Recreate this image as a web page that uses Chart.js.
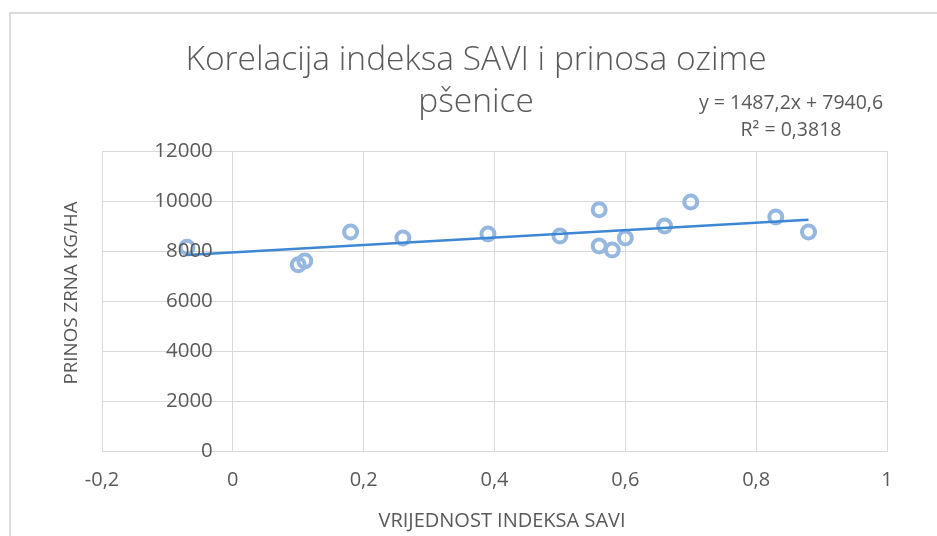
<!DOCTYPE html>
<html>
<head>
<meta charset="utf-8">
<script src="https://cdn.jsdelivr.net/npm/chart.js@4"></script>
<style>
  html, body { margin: 0; padding: 0; background: #fff; }
  #wrap { width: 937px; height: 536px; position: relative; }
</style>
</head>
<body>
<div id="wrap"><canvas id="myChart" width="937" height="536"></canvas></div>
<script>
// SAVI vrijednosti i prinos (kg/ha)
const saviValues = [-0.07, 0.10, 0.11, 0.18, 0.26, 0.39, 0.50, 0.56, 0.56, 0.58, 0.60, 0.66, 0.70, 0.83, 0.88];
const yieldValues = [8150, 7450, 7600, 8760, 8520, 8680, 8600, 9650, 8200, 8040, 8520, 9000, 9960, 9360, 8760];

// osi
const xTickValues = [-0.2, 0, 0.2, 0.4, 0.6, 0.8, 1];
const yTickValues = [0, 2000, 4000, 6000, 8000, 10000, 12000];

// linija trenda (Excel)
const trendSlope = 1487.2;
const trendIntercept = 7940.6;

const titleLines = ["Korelacija indeksa SAVI i prinosa ozime", "pšenice"];
const equationLines = ["y = 1487,2x + 7940,6", "R² = 0,3818"];
const xTitle = "VRIJEDNOST INDEKSA SAVI";
const yTitle = "PRINOS ZRNA KG/HA";

const textColor = "#595959";
const gridColor = "#d9d9d9";
const fontFamily = "'Open Sans', 'DejaVu Sans', sans-serif";

const xMin = Math.min(...saviValues);
const xMax = Math.max(...saviValues);
const trendPoints = [
  { x: xMin, y: trendSlope * xMin + trendIntercept },
  { x: xMax, y: trendSlope * xMax + trendIntercept },
];

const fmt = (v) => String(Math.round(v * 10) / 10).replace(".", ",");

// tekstovi i okvir
const textPlugin = {
  id: "texts",
  beforeDraw(chart) {
    const c = chart.ctx;
    c.save();
    c.strokeStyle = "#d0d0d0";
    c.lineWidth = 1.5;
    c.beginPath();
    c.moveTo(10, 536);
    c.lineTo(10, 13);
    c.lineTo(937, 13);
    c.stroke();
    c.restore();
  },
  afterDraw(chart) {
    const c = chart.ctx;
    const xs = chart.scales.x;
    const ys = chart.scales.y;
    c.save();
    c.fillStyle = textColor;
    c.textBaseline = "middle";

    // oznake y osi lijevo od x = 0
    c.textAlign = "right";
    c.font = "20.5px " + fontFamily;
    const axisX = xs.getPixelForValue(0);
    yTickValues.forEach((v) => {
      c.fillText(String(v), axisX - 20, ys.getPixelForValue(v));
    });

    c.textAlign = "center";
    c.font = "300 33.5px " + fontFamily;
    c.fillText(titleLines[0], 476, 60);
    c.fillText(titleLines[1], 476, 102);

    c.font = "19.5px " + fontFamily;
    c.fillText(equationLines[0], 791, 103);
    c.fillText(equationLines[1], 791, 130);

    c.font = "20px " + fontFamily;
    c.fillText(xTitle, 502, 521);

    c.font = "18.8px " + fontFamily;
    c.translate(72, 293);
    c.rotate(-Math.PI / 2);
    c.fillText(yTitle, 0, 0);
    c.restore();
  },
};

const ctx = document.getElementById("myChart").getContext("2d");
const myChart = new Chart(ctx, {
  type: "scatter",
  data: {
    datasets: [
      {
        label: "Trend",
        type: "line",
        data: trendPoints,
        borderColor: "#3d87d4",
        borderWidth: 2.5,
        pointRadius: 0,
        fill: false,
        order: 0,
      },
      {
        label: "SAVI",
        data: saviValues.map((x, i) => ({ x: x, y: yieldValues[i] })),
        pointRadius: 6.5,
        pointBorderWidth: 4,
        pointBackgroundColor: "rgba(255,255,255,0)",
        pointBorderColor: "#96b8e0",
        order: 1,
      },
    ],
  },
  options: {
    responsive: false,
    animation: false,
    layout: { padding: { left: 102, right: 50, top: 151, bottom: 0 } },
    plugins: {
      legend: { display: false },
      title: { display: false },
      tooltip: { enabled: false },
    },
    scales: {
      x: {
        type: "linear",
        min: xTickValues[0],
        max: xTickValues[xTickValues.length - 1],
        afterBuildTicks: (scale) => {
          scale.ticks = xTickValues.map((v) => ({ value: v }));
        },
        afterFit: (scale) => {
          scale.height = 85;
        },
        grid: { color: gridColor, drawTicks: false },
        border: { color: gridColor },
        ticks: {
          color: textColor,
          font: { family: fontFamily, size: 20 },
          padding: 17,
          maxRotation: 0,
          callback: (v) => fmt(v),
        },
      },
      y: {
        type: "linear",
        position: { x: 0 },
        min: yTickValues[0],
        max: yTickValues[yTickValues.length - 1],
        afterBuildTicks: (scale) => {
          scale.ticks = yTickValues.map((v) => ({ value: v }));
        },
        grid: { color: gridColor, drawTicks: false },
        border: { color: gridColor },
        ticks: { display: false },
      },
    },
  },
  plugins: [textPlugin],
});
</script>
</body>
</html>
